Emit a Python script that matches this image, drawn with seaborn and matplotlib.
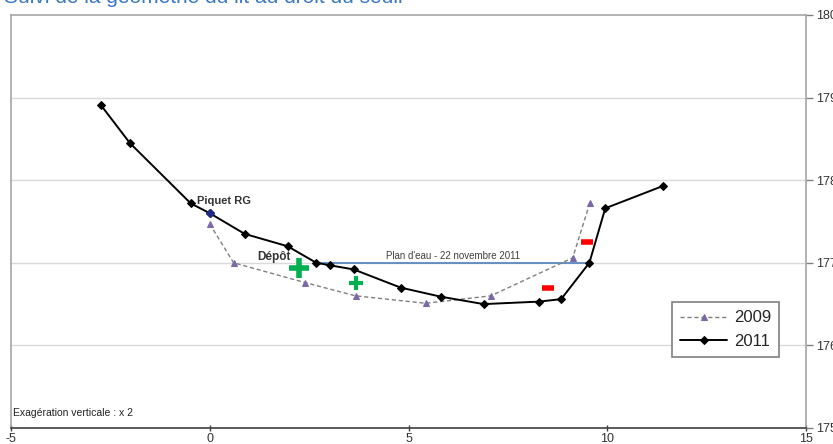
import matplotlib
matplotlib.use("Agg")
import matplotlib.pyplot as plt
import seaborn as sns
import pandas as pd

# Profil en travers : levés 2009 et 2011
x_2011 = [-2.74, -2.01, -0.48, 0.0, 0.88, 1.96, 2.68, 3.02, 3.62, 4.80, 5.81, 6.89, 8.28, 8.84, 9.55, 9.95, 11.40]
z_2011 = [178.91, 178.45, 177.72, 177.60, 177.35, 177.20, 177.00, 176.97, 176.92, 176.70, 176.59, 176.50, 176.53, 176.56, 177.00, 177.66, 177.93]

x_2009 = [0.0, 0.60, 2.40, 3.67, 5.43, 7.07, 9.13, 9.56]
z_2009 = [177.47, 177.00, 176.76, 176.60, 176.51, 176.60, 177.06, 177.72]

piquet_index = 3
plan_eau_x = [2.68, 9.55]
plan_eau_z = 177.0

depot_x = [2.24, 3.67]
depot_z = [176.94, 176.76]
erosion_x = [9.50, 8.50]
erosion_z = [177.25, 176.69]

x_ticks = [-5, 0, 5, 10, 15]
y_ticks = [175, 176, 177, 178, 179, 180]

sns.set_theme(style="white")
plt.rcParams["font.family"] = ["Liberation Sans", "DejaVu Sans"]

fig = plt.figure(figsize=(8.33, 4.44), dpi=100)
ax = fig.add_axes([11 / 833, 16 / 444, 795 / 833, 413 / 444])

df11 = pd.DataFrame({"x": x_2011, "z": z_2011})
df09 = pd.DataFrame({"x": x_2009, "z": z_2009})

# grille horizontale
for yv in y_ticks[1:-1]:
    ax.axhline(yv, color="#d9d9d9", lw=1.0, zorder=0)

# plan d'eau
ax.plot(plan_eau_x, [plan_eau_z, plan_eau_z], color="#4f81bd", lw=1.2, zorder=2)
ax.text(sum(plan_eau_x) / 2, plan_eau_z + 0.025, "Plan d'eau - 22 novembre 2011",
        ha="center", va="bottom", fontsize=7, color="#404040")

sns.lineplot(data=df09, x="x", y="z", sort=False, ax=ax, color="#7f7f7f",
             linestyle=(0, (3, 2)), lw=1.0, marker="^", markersize=4.5,
             markerfacecolor="#7b68a6", markeredgecolor="#7b68a6", label="2009", zorder=3)
sns.lineplot(data=df11, x="x", y="z", sort=False, ax=ax, color="black",
             lw=1.4, marker="D", markersize=3.8,
             markerfacecolor="black", markeredgecolor="black", label="2011", zorder=4)

# piquet rive gauche
ax.plot(x_2011[piquet_index], z_2011[piquet_index], marker="D", markersize=4.2,
        color="#1f2a8a", zorder=5, ls="none")
ax.text(-0.33, 177.75, "Piquet RG", fontsize=8, fontweight="bold", color="#333333",
        ha="left", va="center")
ax.text(1.2, 177.07, "Dépôt", fontsize=8.5, fontweight="bold", color="#333333",
        ha="left", va="center")

# zones de dépôt (+) et d'érosion (-)
ax.plot(depot_x[0], depot_z[0], marker="+", markersize=15, mew=4, color="#00b050",
        ls="none", zorder=6)
ax.plot(depot_x[1], depot_z[1], marker="+", markersize=10, mew=3, color="#00b050",
        ls="none", zorder=6)
for xe, ze in zip(erosion_x, erosion_z):
    ax.plot(xe, ze, marker="_", markersize=8, mew=4, color="#ff0000", ls="none", zorder=6)

ax.text(-4.95, 175.18, "Exagération verticale : x 2", fontsize=7.5, color="#222222",
        ha="left", va="center", fontstretch="condensed")

ax.set_xlim(-5, 15)
ax.set_ylim(175, 180)
ax.set_xticks(x_ticks)
ax.set_yticks(y_ticks)
ax.set_xticklabels([str(t) for t in x_ticks])
ax.yaxis.tick_right()
ax.set_xlabel("")
ax.set_ylabel("")
ax.tick_params(axis="x", direction="inout", length=5, width=1, color="#404040",
               labelsize=9, labelcolor="#333333", pad=1, bottom=True)
ax.tick_params(axis="y", direction="out", length=5, width=1, color="#808080",
               labelsize=9, labelcolor="#333333", pad=2, right=True, left=False)

for side in ["left", "top", "right"]:
    ax.spines[side].set_color("#a6a6a6")
    ax.spines[side].set_linewidth(1.2)
ax.spines["bottom"].set_color("#404040")
ax.spines["bottom"].set_linewidth(1.2)

leg = ax.legend(loc="upper left", bbox_to_anchor=(672 / 833, 1 - 302 / 444),
                bbox_transform=fig.transFigure, frameon=True, fancybox=False,
                fontsize=12, handlelength=2.8, handletextpad=0.4, borderpad=0.5,
                labelspacing=0.5, borderaxespad=0, framealpha=1)
leg.get_frame().set_edgecolor("#7f7f7f")
leg.get_frame().set_linewidth(1.2)

fig.text(0.005, 1.005, "Suivi de la géométrie du lit au droit du seuil", color="#3a78c0",
         fontsize=15, ha="left", va="center")

fig.savefig("out.png", dpi=100)
